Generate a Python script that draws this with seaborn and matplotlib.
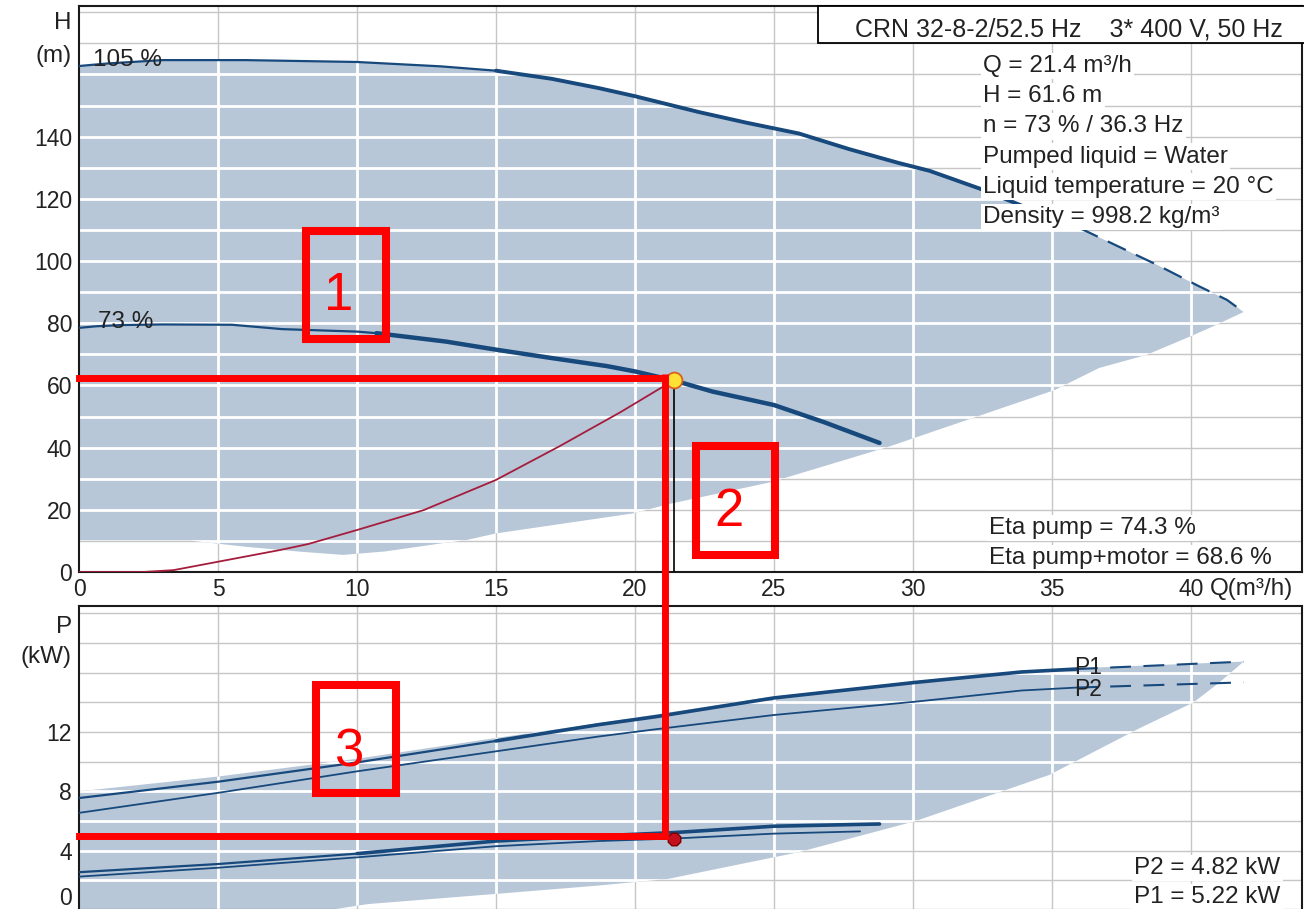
import matplotlib
matplotlib.use("Agg")
import matplotlib.pyplot as plt
from matplotlib.patches import Rectangle, ConnectionPatch
import numpy as np
import pandas as pd
import seaborn as sns

# ------------------------------------------------------------------ data
# Q-H curve at 105 % speed
q_h105 = [0, 1.0, 3.0, 6.0, 10.0, 13.0, 15.0, 17.0, 18.7, 20.0, 22.3, 24.0,
          25.9, 27.7, 29.5, 30.6, 32.4, 34.0, 36.0, 38.8, 40.2, 41.3, 41.9]
h_105 = [162.7, 163.5, 164.6, 164.6, 164.0, 162.6, 161.2, 158.6, 155.6, 153.0,
         147.9, 144.5, 141.0, 136.0, 131.5, 129.0, 123.3, 117.5, 110.6, 98.7,
         92.3, 87.5, 83.6]

# Q-H curve at 73 % speed
q_h73 = [0, 0.6, 1.5, 3.0, 5.5, 7.3, 10.0, 10.7, 13.2, 15.0, 17.0, 19.0, 20.0,
         21.4, 22.8, 25.0, 26.8, 28.8]
h_73 = [78.5, 79.0, 79.4, 79.6, 79.5, 78.1, 77.3, 76.8, 74.1, 71.5, 68.8, 66.2,
        64.5, 61.6, 58.0, 53.7, 48.2, 41.5]

# System curve
q_sys = [0, 2.3, 3.4, 5.0, 7.25, 8.25, 10.0, 12.4, 15.0, 17.3, 19.5, 20.9, 21.4]
h_sys = [0, 0, 0.6, 3.3, 7.1, 9.0, 13.5, 19.9, 29.6, 40.5, 51.5, 59.0, 61.6]

# Lower edge of the head operating area
q_henv = [0, 4.0, 6.0, 8.0, 9.5, 11.0, 12.5, 13.1, 13.9, 15.0, 19.9, 21.3, 24.9,
          29.1, 35.1, 36.7, 38.4, 40.1, 40.9, 41.9]
h_henv = [10.1, 10.1, 8.1, 6.5, 5.5, 6.6, 8.5, 9.3, 10.2, 12.4, 18.8, 22.0, 28.9,
          40.2, 58.5, 65.6, 69.8, 76.2, 79.4, 83.6]

# Power curves at 105 % speed (kW)
q_p105 = [0, 5, 10, 15, 18.7, 20.8, 25.0, 30.1, 33.9, 35.9]
p1_105 = [7.55, 8.65, 9.95, 11.4, 12.5, 13.05, 14.3, 15.35, 16.05, 16.25]
p2_105 = [6.55, 7.9, 9.35, 10.7, 11.7, 12.2, 13.15, 14.05, 14.8, 15.0]
q_p105_ext = [35.9, 41.9]
p1_105_ext = [16.25, 16.75]
p2_105_ext = [15.0, 15.35]

# Power curves at 73 % speed (kW)
q_p1_73 = [0, 5, 10, 15, 18.7, 21.4, 25.0, 28.8]
p1_73 = [2.55, 3.1, 3.8, 4.65, 5.0, 5.22, 5.65, 5.8]
q_p2_73 = [0, 5, 10, 15, 18.7, 21.4, 25.0, 28.1]
p2_73 = [2.25, 2.85, 3.55, 4.3, 4.65, 4.82, 5.15, 5.3]

# Power operating area
q_penv_top = [0, 5, 10, 15, 18.7, 25.0, 30.1, 35.9, 41.9]
p_penv_top = [8.0, 9.0, 10.2, 11.6, 12.6, 14.4, 15.4, 16.3, 16.75]
q_penv_low = [0, 9.0, 10.4, 15.1, 18.7, 21.2, 25.9, 30.1, 34.9, 38.2, 40.1, 41.0, 41.9]
p_penv_low = [0, 0, 0.4, 1.1, 1.65, 2.1, 3.9, 6.0, 9.1, 12.3, 14.0, 15.3, 16.75]

# Duty point
Q_DUTY, H_DUTY = 21.4, 61.6
P1_DUTY, P2_DUTY = 5.22, 4.82
ETA_PUMP, ETA_TOTAL = 74.3, 68.6

# Hand-drawn markup (red guide lines and numbered boxes)
Q_MARK, H_MARK, P_MARK = 21.1, 62.4, 5.0
head_boxes = [("1", (8.17, 74.9, 11.04, 109.6), (9.35, 88.7)),
              ("2", (22.2, 5.5, 25.05, 40.5), (23.4, 19.3))]
power_boxes = [("3", (8.53, 7.9, 11.4, 15.18), (9.7, 10.6))]

info_lines = ["Q = 21.4 m³/h", "H = 61.6 m", "n = 73 % / 36.3 Hz",
              "Pumped liquid = Water", "Liquid temperature = 20 °C",
              "Density = 998.2 kg/m³"]
header = "CRN 32-8-2/52.5 Hz    3* 400 V, 50 Hz"

q_ticks = [0, 5, 10, 15, 20, 25, 30, 35, 40]
h_ticks = [0, 20, 40, 60, 80, 100, 120, 140]
p_ticks = [4, 8, 12]

# ------------------------------------------------------------------ style
sns.set_style("white")
plt.rcParams["font.family"] = ["Liberation Sans", "DejaVu Sans"]
FS_TICK = 16.5
FS = 17.5
FILL = "#b7c7d8"
CURVE = "#17497c"
GRID = "#c6c6c6"
SYS = "#a51d3d"
RED = "#ff0000"
INK = "#222222"

W, H = 1304, 909
fig = plt.figure(figsize=(W / 100, H / 100), dpi=100)


def px_axes(l, t, r, b):
    return fig.add_axes([l / W, 1 - b / H, (r - l) / W, (b - t) / H])


ax_h = px_axes(79, 6, 1302, 572)
ax_p = px_axes(79, 606, 1302, 910)
ax_h.set_xlim(0, 44)
ax_h.set_ylim(0, 182)
ax_p.set_xlim(0, 44)
ax_p.set_ylim(0, 20.5)


def grid(ax, xs, ys, clip):
    for x in xs:
        ax.axvline(x, color=GRID, lw=1.0, zorder=0.5)
        ax.axvline(x, color="white", lw=2.0, zorder=1.5).set_clip_path(clip)
    for y in ys:
        ax.axhline(y, color=GRID, lw=1.0, zorder=0.5)
        ax.axhline(y, color="white", lw=2.0, zorder=1.5).set_clip_path(clip)


def curve(ax, q, v, lw, ls="-", color=CURVE, z=3):
    sns.lineplot(x=q, y=v, ax=ax, color=color, lw=lw, linestyle=ls,
                 sort=False, estimator=None, zorder=z)


# ------------------------------------------------------------------ head panel
env_h = ax_h.fill(q_h105 + q_henv[::-1], h_105 + h_henv[::-1],
                  color=FILL, lw=0, zorder=1)[0]
grid(ax_h, np.arange(5, 44, 5), np.arange(10, 182, 10), env_h)

i15, i36 = q_h105.index(15.0), q_h105.index(36.0)
curve(ax_h, q_h105[:i15 + 1], h_105[:i15 + 1], 1.6)
curve(ax_h, q_h105[i15:i36 + 1], h_105[i15:i36 + 1], 2.8)
curve(ax_h, q_h105[i36:], h_105[i36:], 1.6, ls=(0, (9, 5)))

j = q_h73.index(10.7)
curve(ax_h, q_h73[:j + 1], h_73[:j + 1], 1.6)
curve(ax_h, q_h73[j:], h_73[j:], 3.2)

curve(ax_h, q_sys, h_sys, 1.3, color=SYS, z=3.2)
ax_h.vlines(Q_DUTY, 0, H_DUTY, color="black", lw=1.2, zorder=3.1)
sns.scatterplot(x=[Q_DUTY], y=[H_DUTY], ax=ax_h, s=130, color="#ffe135",
                edgecolor="#d9601c", linewidth=1.3, zorder=6)

ax_h.text(0.5, 162.7, "105 %", fontsize=FS, va="baseline", color=INK, zorder=4)
ax_h.text(0.68, 78.5, "73 %", fontsize=FS, va="baseline", color=INK, zorder=4)

box = dict(boxstyle="square,pad=0.1", fc="white", ec="none")
fx = lambda px: (px - 79) / 1223
fyh = lambda py: (572 - py) / 566
fyp = lambda py: (910 - py) / 304

for k, line in enumerate(info_lines):
    ax_h.text(fx(983), fyh(72 + 30.2 * k), line, transform=ax_h.transAxes,
              fontsize=FS, va="baseline", color=INK, bbox=box, zorder=7)
ax_h.text(fx(989), fyh(534), f"Eta pump = {ETA_PUMP} %", transform=ax_h.transAxes,
          fontsize=FS, va="baseline", color=INK, bbox=box, zorder=7)
ax_h.text(fx(989), fyh(564), f"Eta pump+motor = {ETA_TOTAL} %",
          transform=ax_h.transAxes, fontsize=FS, va="baseline", color=INK,
          bbox=box, zorder=7)

ax_h.add_patch(Rectangle((fx(818), fyh(43)), fx(1305) - fx(818), 1 - fyh(43),
                         transform=ax_h.transAxes, fc="white", ec="black",
                         lw=1.3, zorder=7, clip_on=False))
ax_h.text(fx(1283), fyh(37), header, transform=ax_h.transAxes, ha="right",
          va="baseline", fontsize=18, color=INK, zorder=8)

# ------------------------------------------------------------------ power panel
env_p = ax_p.fill(q_penv_top + q_penv_low[::-1], p_penv_top + p_penv_low[::-1],
                  color=FILL, lw=0, zorder=1)[0]
grid(ax_p, np.arange(5, 44, 5), np.arange(2, 21, 2), env_p)

k15 = q_p105.index(15)
curve(ax_p, q_p105[:k15 + 1], p1_105[:k15 + 1], 1.6)
curve(ax_p, q_p105[k15:], p1_105[k15:], 2.6)
curve(ax_p, q_p105, p2_105, 1.3)
curve(ax_p, q_p105_ext, p1_105_ext, 1.5, ls=(0, (10, 6)))
curve(ax_p, q_p105_ext, p2_105_ext, 1.5, ls=(0, (10, 6)))

m10 = q_p1_73.index(10)
curve(ax_p, q_p1_73[:m10 + 1], p1_73[:m10 + 1], 1.6)
curve(ax_p, q_p1_73[m10:], p1_73[m10:], 2.6)
curve(ax_p, q_p2_73, p2_73, 1.3)

ax_p.text(35.8, p1_105[-1] + 0.1, "P1", fontsize=FS_TICK, va="center", color=INK, zorder=4)
ax_p.text(35.8, p2_105[-1] - 0.1, "P2", fontsize=FS_TICK, va="center", color=INK, zorder=4)

sns.scatterplot(x=[Q_DUTY], y=[P2_DUTY], ax=ax_p, s=95, marker="8",
                color="#c4101c", edgecolor="#7a0000", linewidth=1.0, zorder=6)

ax_p.text(fx(1134), fyp(874), f"P2 = {P2_DUTY} kW", transform=ax_p.transAxes,
          fontsize=FS, va="baseline", color=INK, bbox=box, zorder=7)
ax_p.text(fx(1134), fyp(903), f"P1 = {P1_DUTY} kW", transform=ax_p.transAxes,
          fontsize=FS, va="baseline", color=INK, bbox=box, zorder=7)

# ------------------------------------------------------------------ axes
for ax in (ax_h, ax_p):
    ax.set_xlabel("")
    ax.set_ylabel("")
    ax.set_xticks(q_ticks)
    for s in ax.spines.values():
        s.set_color("#1a1a1a")
        s.set_linewidth(1.5)
    ax.tick_params(length=0, labelsize=FS_TICK, colors=INK)
    ax.tick_params(axis="y", pad=5)

ax_h.set_yticks(h_ticks)
ax_h.tick_params(axis="x", pad=4)
ax_p.set_yticks(p_ticks)
ax_p.tick_params(axis="x", labelbottom=False)
ax_p.text(-7 / 1223, 0, "0", transform=ax_p.get_yaxis_transform(), ha="right",
          va="bottom", fontsize=FS_TICK, color=INK)

ax_h.annotate("Q(m³/h)", xy=(40.7, 0), xycoords=ax_h.get_xaxis_transform(),
              xytext=(0, -4), textcoords="offset points", va="top", ha="left",
              fontsize=FS, color=INK)

fig.text(72 / W, 1 - 23 / H, "H", ha="right", va="center", fontsize=FS, color=INK)
fig.text(72 / W, 1 - 56 / H, "(m)", ha="right", va="center", fontsize=FS, color=INK)
fig.text(72 / W, 1 - 627 / H, "P", ha="right", va="center", fontsize=FS, color=INK)
fig.text(72 / W, 1 - 657 / H, "(kW)", ha="right", va="center", fontsize=FS, color=INK)

# ------------------------------------------------------------------ red markup
ax_h.plot([0, Q_MARK], [H_MARK, H_MARK], color=RED, lw=5,
          solid_capstyle="projecting", clip_on=False, zorder=10)
ax_p.plot([0, Q_MARK], [P_MARK, P_MARK], color=RED, lw=5,
          solid_capstyle="projecting", clip_on=False, zorder=10)
fig.add_artist(ConnectionPatch(xyA=(Q_MARK, H_MARK), coordsA=ax_h.transData,
                               xyB=(Q_MARK, P_MARK), coordsB=ax_p.transData,
                               color=RED, lw=5, capstyle="projecting", zorder=10))

for ax, boxes in ((ax_h, head_boxes), (ax_p, power_boxes)):
    for label, (x0, y0, x1, y1), (tx, ty) in boxes:
        ax.add_patch(Rectangle((x0, y0), x1 - x0, y1 - y0, fill=False, ec=RED,
                               lw=5.8, zorder=10, clip_on=False))
        ax.text(tx, ty, label, color=RED, fontsize=38, ha="center", va="center",
                zorder=10)

fig.savefig("out.png", dpi=100)
